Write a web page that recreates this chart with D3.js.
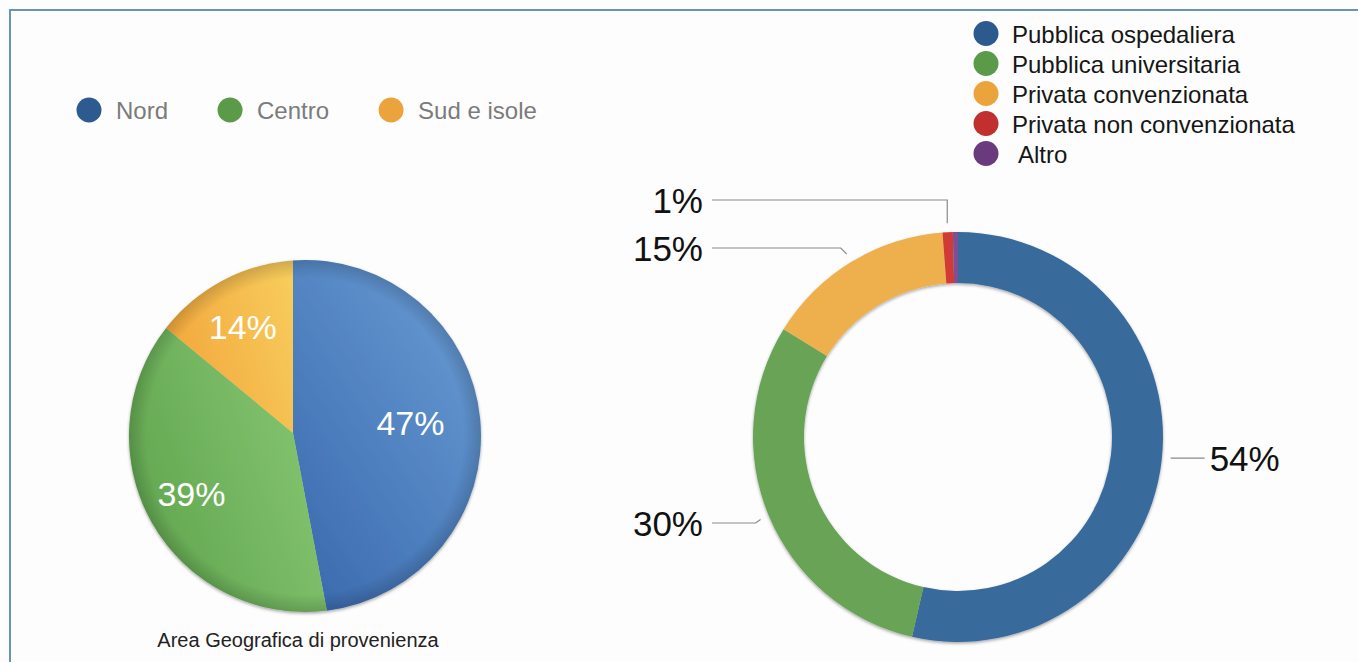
<!DOCTYPE html>
<html><head><meta charset="utf-8">
<script src="https://cdn.jsdelivr.net/npm/d3@7/dist/d3.min.js"></script>
<style>
body{margin:0;background:#fdfdfd;}
svg{display:block;font-family:"Liberation Sans",Arial,Helvetica,sans-serif;}
</style>
</head><body>
<svg id="c" width="1358" height="662"></svg>
<script>
// ---- data ----
const regionCategories = ["Nord", "Centro", "Sud e isole"];
const regionValues = [47, 39, 14];
const regionLabels = ["47%", "39%", "14%"];
const regionColors = ["#2d5a8f", "#5a9a48", "#eba43c"];
const regionGradients = [["#6b9fd6", "#3d6cb0"], ["#86c672", "#5fa44d"], ["#f7cb5b", "#f2a63b"]];
const pieTitle = "Area Geografica di provenienza";

const structureCategories = ["Pubblica ospedaliera", "Pubblica universitaria", "Privata convenzionata", "Privata non convenzionata", "Altro"];
const structureValues = [53.6, 30.2, 15.0, 0.8, 0.4];
const structureLabels = ["54%", "30%", "15%", "1%", ""];
const structureColors = ["#386a9c", "#69a457", "#edb04d", "#d03a35", "#7e4f93"];
const structureLegendColors = ["#2c5a8f", "#5a9a48", "#eba43c", "#c0302e", "#6a3a7e"];

// ---- layout ----
const svg = d3.select("#c");
const defs = svg.append("defs");

// frame (top and left edges visible)
svg.append("path").attr("d", "M10,662V10H1358").attr("fill", "none")
  .attr("stroke", "#6b93b4").attr("stroke-width", 2);

// shadows
const f1 = defs.append("filter").attr("id", "sh").attr("x", "-10%").attr("y", "-10%").attr("width", "120%").attr("height", "125%");
f1.append("feDropShadow").attr("dx", 0).attr("dy", 1.5).attr("stdDeviation", 1.5).attr("flood-color", "#000").attr("flood-opacity", 0.35);

// ---- left pie ----
const apex = {x: 293, y: 433};
const C = {x: 305, y: 436};
const R = 176;
const pie = d3.pie().sort(null).value(d => d)(regionValues);

function rayHit(theta) {
  const dx = Math.sin(theta), dy = -Math.cos(theta);
  const fx = apex.x - C.x, fy = apex.y - C.y;
  const b = fx * dx + fy * dy;
  const c = fx * fx + fy * fy - R * R;
  const t = -b + Math.sqrt(b * b - c);
  return {x: apex.x + t * dx, y: apex.y + t * dy};
}
function slicePath(a0, a1) {
  const p0 = rayHit(a0), p1 = rayHit(a1);
  let g0 = Math.atan2(p0.y - C.y, p0.x - C.x), g1 = Math.atan2(p1.y - C.y, p1.x - C.x);
  let diff = g1 - g0; while (diff < 0) diff += 2 * Math.PI;
  const large = diff > Math.PI ? 1 : 0;
  return `M${apex.x},${apex.y}L${p0.x},${p0.y}A${R},${R} 0 ${large} 1 ${p1.x},${p1.y}Z`;
}

const gradDirs = [[1, 0, 0.2, 1], [1, 0.3, 0, 0.8], [1, 0.2, 0, 0.6]];
regionGradients.forEach((g, i) => {
  const lg = defs.append("linearGradient").attr("id", "rg" + i)
    .attr("x1", gradDirs[i][0]).attr("y1", gradDirs[i][1]).attr("x2", gradDirs[i][2]).attr("y2", gradDirs[i][3]);
  lg.append("stop").attr("offset", 0).attr("stop-color", g[0]);
  lg.append("stop").attr("offset", 1).attr("stop-color", g[1]);
});
const rim = defs.append("radialGradient").attr("id", "rim").attr("gradientUnits", "userSpaceOnUse")
  .attr("cx", C.x).attr("cy", C.y).attr("r", R);
rim.append("stop").attr("offset", 0.9).attr("stop-color", "#000").attr("stop-opacity", 0);
rim.append("stop").attr("offset", 1).attr("stop-color", "#000").attr("stop-opacity", 0.16);

const pg = svg.append("g").attr("filter", "url(#sh)");
pg.selectAll("path.slice").data(pie).join("path").attr("class", "slice")
  .attr("d", d => slicePath(d.startAngle, d.endAngle))
  .attr("fill", (d, i) => `url(#rg${i})`);
svg.append("circle").attr("cx", C.x).attr("cy", C.y).attr("r", R).attr("fill", "url(#rim)");

svg.selectAll("text.pl").data(pie).join("text").attr("class", "pl")
  .attr("x", d => apex.x + 118 * Math.sin((d.startAngle + d.endAngle) / 2))
  .attr("y", d => apex.y - 118 * Math.cos((d.startAngle + d.endAngle) / 2) + 13)
  .attr("text-anchor", "middle").attr("fill", "#fff").attr("font-size", 34)
  .text((d, i) => regionLabels[i]);

svg.append("text").attr("x", 298).attr("y", 647).attr("text-anchor", "middle")
  .attr("font-size", 20).attr("fill", "#222").text(pieTitle);

// left legend
let lx = 89;
regionCategories.forEach((name, i) => {
  svg.append("circle").attr("cx", lx).attr("cy", 110).attr("r", 12.5).attr("fill", regionColors[i]);
  const t = svg.append("text").attr("x", lx + 27).attr("y", 119).attr("font-size", 24)
    .attr("fill", "#7b7b7b").text(name);
  lx = lx + 27 + t.node().getComputedTextLength() + 62;
});

// ---- right donut ----
const D = {x: 958, y: 437};
const outerR = 205, innerR = 154;
const dpie = d3.pie().sort(null).value(d => d)(structureValues);
const arc = d3.arc().innerRadius(innerR).outerRadius(outerR);
const dg = svg.append("g").attr("transform", `translate(${D.x},${D.y})`).attr("filter", "url(#sh)");
dg.selectAll("path").data(dpie).join("path").attr("d", arc)
  .attr("fill", (d, i) => structureColors[i]);

// leader lines & labels
const labelLayout = [
  {side: "right"},
  {side: "left", lineY: 523, bend: 5},
  {side: "left", lineY: 248, bend: 6},
  {side: "left", lineY: 200, bend: 0}
];
labelLayout.forEach((lay, i) => {
  const d = dpie[i];
  const m = (d.startAngle + d.endAngle) / 2;
  const A = {x: D.x + 214 * Math.sin(m), y: D.y - 214 * Math.cos(m)};
  let pts, tx, ty, anchor;
  if (lay.side === "right") {
    pts = [[A.x, A.y - 3], [A.x + 34, A.y - 3]];
    tx = A.x + 39; ty = A.y - 3; anchor = "start";
  } else {
    pts = [[712, lay.lineY], [A.x - lay.bend, lay.lineY], [A.x, A.y]];
    tx = 703; ty = lay.lineY; anchor = "end";
  }
  svg.append("path").attr("d", d3.line()(pts)).attr("fill", "none")
    .attr("stroke", "#8a8a8a").attr("stroke-width", 1.2);
  svg.append("text").attr("x", tx).attr("y", ty + 12.5).attr("text-anchor", anchor)
    .attr("font-size", 35).attr("fill", "#111").text(structureLabels[i]);
});

// right legend
structureCategories.forEach((name, i) => {
  const cy = 33.5 + i * 30;
  svg.append("circle").attr("cx", 986).attr("cy", cy).attr("r", 12.5).attr("fill", structureLegendColors[i]);
  svg.append("text").attr("x", name === "Altro" ? 1018 : 1012).attr("y", cy + 9)
    .attr("font-size", 24).attr("fill", "#161616").text(name);
});
</script>
</body></html>
